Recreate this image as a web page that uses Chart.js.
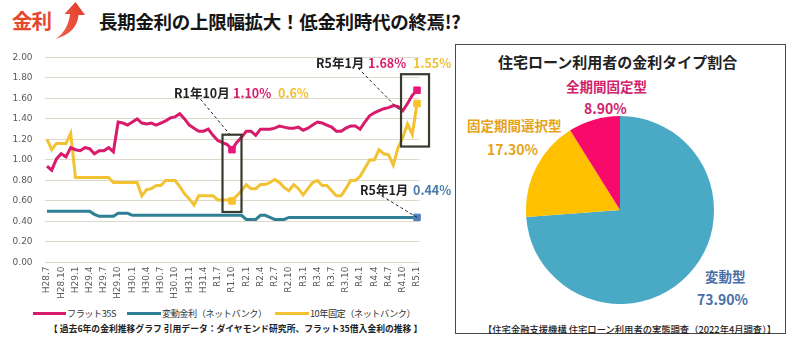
<!DOCTYPE html>
<html lang="ja">
<head>
<meta charset="utf-8">
<title>金利推移と金利タイプ割合</title>
<script src="https://cdn.jsdelivr.net/npm/chart.js@4.4.1/dist/chart.umd.min.js"></script>
<style>
  html, body { margin: 0; padding: 0; background: #fff; }
  body { width: 792px; height: 344px; position: relative; overflow: hidden;
         font-family: "Noto Sans CJK JP", "Noto Sans", sans-serif; }
  .abs { position: absolute; white-space: nowrap; }
  .b { font-weight: bold; }
  #lineWrap { position: absolute; left: 0; top: 40px; width: 455px; height: 265px; }
  #pieWrap { position: absolute; left: 526px; top: 116px; width: 188px; height: 188px; }
  #panel { position: absolute; left: 455px; top: 44px; width: 331px; height: 290px;
           border: 1.5px solid #4a4a4a; box-sizing: border-box; }
  .sw { position: absolute; height: 3px; }
  .lg { position: absolute; white-space: nowrap; font-size: 9.2px; color: #333; letter-spacing: -0.5px; top: 306px; }
</style>
</head>
<body>

<!-- heading -->
<div class="abs b" style="left:12px; top:5px; font-size:20.5px; color:#e5482f; letter-spacing:-1px;">金利</div>
<svg class="abs" style="left:52px; top:0px;" width="36" height="40" viewBox="0 0 36 40">
  <defs>
    <linearGradient id="ag" x1="0" y1="1" x2="1" y2="0">
      <stop offset="0" stop-color="#f0664a"/>
      <stop offset="1" stop-color="#e33a28"/>
    </linearGradient>
  </defs>
  <path d="M3 39 C 12 34, 17 24, 18 14 L 12.5 14 L 23.5 2 L 33 15 L 26.5 15 C 25.5 27, 18 35, 3 39 Z" fill="url(#ag)"/>
</svg>
<div class="abs b" style="left:99px; top:8px; font-size:18.5px; color:#151515; letter-spacing:-0.3px;">長期金利の上限幅拡大！低金利時代の終焉!?</div>

<div id="lineWrap"><canvas id="rates" width="455" height="265"></canvas></div>

<!-- callouts -->
<div class="abs b" style="left:174px; top:83px; font-size:12.5px; color:#222;">R1年10月</div>
<div class="abs b" id="c1a" style="left:233px; top:83px; font-size:12.5px; color:#d81b6a;"></div>
<div class="abs b" id="c1b" style="left:278px; top:83px; font-size:12.5px; color:#f0c030;"></div>
<div class="abs b" style="left:316px; top:53px; font-size:12.5px; color:#222;">R5年1月</div>
<div class="abs b" id="c2a" style="left:368px; top:53px; font-size:12.5px; color:#d81b6a;"></div>
<div class="abs b" id="c2b" style="left:413px; top:53px; font-size:12.5px; color:#f0c030;"></div>
<div class="abs b" style="left:360px; top:180px; font-size:12.5px; color:#222;">R5年1月</div>
<div class="abs b" id="c3a" style="left:413px; top:180px; font-size:12.5px; color:#4a7aa8;"></div>

<!-- legend -->
<div class="sw" style="left:33px; top:312px; width:33px; background:#d81b6a;"></div>
<div class="lg" style="left:67px;" id="lg0"></div>
<div class="sw" style="left:127px; top:312px; width:34px; background:#2f7f97;"></div>
<div class="lg" style="left:162px;" id="lg1"></div>
<div class="sw" style="left:275px; top:312px; width:34px; background:#f2c232;"></div>
<div class="lg" style="left:310px;" id="lg2"></div>
<div class="abs b" style="left:49px; top:322px; font-size:8.8px; color:#222;">【 過去6年の金利推移グラフ 引用データ：ダイヤモンド研究所、フラット35借入金利の推移 】</div>

<!-- loan type panel -->
<div id="panel"></div>
<div class="abs b" style="left:498px; top:51px; font-size:15px; color:#222;">住宅ローン利用者の金利タイプ割合</div>
<div class="abs b" id="pl2" style="left:566px; top:76px; font-size:13.5px; color:#d0246c;"></div>
<div class="abs b" id="pv2" style="left:584px; top:98px; font-size:14px; color:#d0246c;"></div>
<div class="abs b" id="pl1" style="left:467px; top:115px; font-size:13.5px; color:#e6a41e;"></div>
<div class="abs b" id="pv1" style="left:487px; top:139px; font-size:14px; color:#e6a41e;"></div>
<div class="abs b" id="pl0" style="left:705px; top:266px; font-size:13.5px; color:#4a6fa8;"></div>
<div class="abs b" id="pv0" style="left:697px; top:289px; font-size:14px; color:#4a6fa8;"></div>
<div id="pieWrap"><canvas id="share" width="188" height="188"></canvas></div>
<div class="abs" style="left:483px; top:322px; font-size:9.3px; color:#222; font-weight:500;">【住宅金融支援機構 住宅ローン利用者の実態調査（2022年4月調査）】</div>

<script>
// Quarter labels shown on the x axis (monthly data, H28.7 – R5.1)
const tickLabels = ['H28.7','H28.10','H29.1','H29.4','H29.7','H29.10','H30.1','H30.4','H30.7','H30.10',
  'H31.1','H31.4','R1.7','R1.10','R2.1','R2.4','R2.7','R2.10','R3.1','R3.4','R3.7','R3.10',
  'R4.1','R4.4','R4.7','R4.10','R5.1'];

const seriesNames = ['フラット35S', '変動金利（ネットバンク）', '10年固定（ネットバンク）'];

// Monthly rates (%)
const flat35s = [0.94,0.90,1.01,1.06,1.03,1.12,1.10,1.09,1.12,1.11,
  1.06,1.09,1.09,1.12,1.08,1.37,1.36,1.34,1.37,1.40,
  1.36,1.35,1.36,1.34,1.36,1.38,1.41,1.42,1.45,1.40,
  1.34,1.31,1.28,1.28,1.30,1.24,1.19,1.17,1.15,1.10,
  1.17,1.22,1.28,1.28,1.24,1.30,1.30,1.30,1.31,1.33,
  1.32,1.31,1.31,1.32,1.29,1.31,1.34,1.37,1.36,1.34,
  1.32,1.28,1.28,1.31,1.33,1.33,1.30,1.37,1.43,1.46,
  1.48,1.50,1.51,1.53,1.52,1.48,1.55,1.63,1.68];

const variableNet = [0.50,0.50,0.50,0.50,0.50,0.50,0.50,0.50,0.50,0.50,
  0.47,0.45,0.45,0.45,0.45,0.48,0.48,0.48,0.46,0.46,
  0.46,0.46,0.46,0.46,0.46,0.46,0.46,0.46,0.46,0.46,
  0.46,0.46,0.46,0.46,0.46,0.46,0.46,0.46,0.46,0.46,
  0.46,0.46,0.42,0.42,0.42,0.46,0.46,0.44,0.42,0.42,
  0.42,0.44,0.44,0.44,0.44,0.44,0.44,0.44,0.44,0.44,
  0.44,0.44,0.44,0.44,0.44,0.44,0.44,0.44,0.44,0.44,
  0.44,0.44,0.44,0.44,0.44,0.44,0.44,0.44,0.44];

const fixed10Net = [1.20,1.10,1.16,1.16,1.16,1.26,0.83,0.83,0.83,0.83,
  0.83,0.83,0.83,0.83,0.78,0.78,0.78,0.78,0.78,0.78,
  0.65,0.71,0.72,0.75,0.75,0.80,0.80,0.80,0.74,0.67,
  0.62,0.56,0.65,0.65,0.65,0.65,0.61,0.61,0.61,0.60,
  0.65,0.70,0.76,0.72,0.72,0.76,0.76,0.78,0.81,0.78,
  0.73,0.70,0.76,0.72,0.66,0.72,0.78,0.80,0.75,0.75,
  0.70,0.65,0.65,0.72,0.80,0.80,0.84,0.92,1.00,1.00,
  1.10,1.06,1.05,0.95,1.12,1.22,1.35,1.25,1.55];

// Loan type shares (%)
const loanTypes = ['変動型', '固定期間選択型', '全期間固定型'];
const loanShares = [73.9, 17.3, 8.9];

// Highlighted months
const markR1 = 39;                      // R1.10
const markR5 = flat35s.length - 1;      // R5.1

const monthLabels = flat35s.map((_, i) => (i % 3 === 0 ? tickLabels[i / 3] : ''));

function markerRadius(idxs) {
  return flat35s.map((_, i) => (idxs.includes(i) ? 4.6 : 0));
}

// callout and legend texts come from the data
document.getElementById('c1a').textContent = flat35s[markR1].toFixed(2) + '%';
document.getElementById('c1b').textContent = fixed10Net[markR1].toFixed(1) + '%';
document.getElementById('c2a').textContent = flat35s[markR5].toFixed(2) + '%';
document.getElementById('c2b').textContent = fixed10Net[markR5].toFixed(2) + '%';
document.getElementById('c3a').textContent = variableNet[markR5].toFixed(2) + '%';
seriesNames.forEach((n, i) => { document.getElementById('lg' + i).textContent = n; });
loanTypes.forEach((n, i) => {
  document.getElementById('pl' + i).textContent = n;
  document.getElementById('pv' + i).textContent = loanShares[i].toFixed(2) + '%';
});

const tickFont = { family: '"DejaVu Sans", Verdana, sans-serif', size: 9 };

// frames around highlighted months and dashed leader lines
const calloutPlugin = {
  id: 'callouts',
  afterDatasetsDraw(chart) {
    const { ctx, scales: { x, y } } = chart;
    const x1 = x.getPixelForValue(markR1);
    const x5 = x.getPixelForValue(markR5);
    ctx.save();
    ctx.strokeStyle = '#3a392d';
    ctx.lineWidth = 2.2;
    const t1 = y.getPixelForValue(flat35s[markR1]) - 15;
    const b1 = y.getPixelForValue(fixed10Net[markR1]) + 11;
    ctx.strokeRect(x1 - 9.5, t1, 19, b1 - t1);
    const t5 = y.getPixelForValue(flat35s[markR5]) - 16;
    const b5 = y.getPixelForValue(fixed10Net[markR5]) + 43;
    ctx.strokeRect(x5 - 16, t5, 28, b5 - t5);

    ctx.strokeStyle = '#222';
    ctx.lineWidth = 1;
    ctx.setLineDash([3, 2.5]);
    ctx.beginPath();
    ctx.moveTo(197, 55); ctx.lineTo(x1 - 2, t1);
    ctx.moveTo(358, 28); ctx.lineTo(x5 - 17, y.getPixelForValue(flat35s[markR5 - 3]));
    ctx.moveTo(377, 153); ctx.lineTo(x5, y.getPixelForValue(variableNet[markR5]));
    ctx.stroke();
    ctx.restore();
  }
};

new Chart(document.getElementById('rates'), {
  type: 'line',
  data: {
    labels: monthLabels,
    datasets: [
      { label: seriesNames[0], data: flat35s, borderColor: '#d81b6a', backgroundColor: '#e8177a',
        borderWidth: 3, pointStyle: 'rect', pointRadius: markerRadius([markR1, markR5]),
        pointBorderWidth: 1, pointBorderColor: '#e8177a', tension: 0 },
      { label: seriesNames[1], data: variableNet, borderColor: '#2f7f97', backgroundColor: '#4f7fbd',
        borderWidth: 3, pointStyle: 'rect', pointRadius: markerRadius([markR5]),
        pointBorderWidth: 1, pointBorderColor: '#4f7fbd', tension: 0 },
      { label: seriesNames[2], data: fixed10Net, borderColor: '#f2c232', backgroundColor: '#f7c12a',
        borderWidth: 3, pointStyle: 'rect', pointRadius: markerRadius([markR1, markR5]),
        pointBorderWidth: 1, pointBorderColor: '#f7c12a', tension: 0 }
    ]
  },
  options: {
    responsive: false,
    devicePixelRatio: 1,
    animation: false,
    layout: { padding: { top: 10.5, right: 35.6, left: 0, bottom: 0 } },
    plugins: { legend: { display: false }, tooltip: { enabled: false } },
    scales: {
      x: {
        offset: true,
        grid: { display: false, drawTicks: false },
        border: { display: false },
        ticks: { autoSkip: false, maxRotation: 90, minRotation: 90, padding: 4,
                 font: tickFont, color: '#595959' },
        afterFit(s) { s.height = 42.5; }
      },
      y: {
        min: 0, max: 2,
        grid: { color: '#dcd8cc', lineWidth: 1, drawTicks: false },
        border: { display: false },
        ticks: { stepSize: 0.2, padding: 12, font: tickFont, color: '#595959',
                 callback: v => Number(v).toFixed(2) },
        afterFit(s) { s.width = 44.6; }
      }
    }
  },
  plugins: [calloutPlugin]
});

new Chart(document.getElementById('share'), {
  type: 'pie',
  data: {
    labels: loanTypes,
    datasets: [{ data: loanShares, backgroundColor: ['#4aaac5', '#ffc000', '#f80a6a'], borderWidth: 0 }]
  },
  options: {
    responsive: false,
    devicePixelRatio: 1,
    animation: false,
    plugins: { legend: { display: false }, tooltip: { enabled: false } }
  }
});
</script>
</body>
</html>
